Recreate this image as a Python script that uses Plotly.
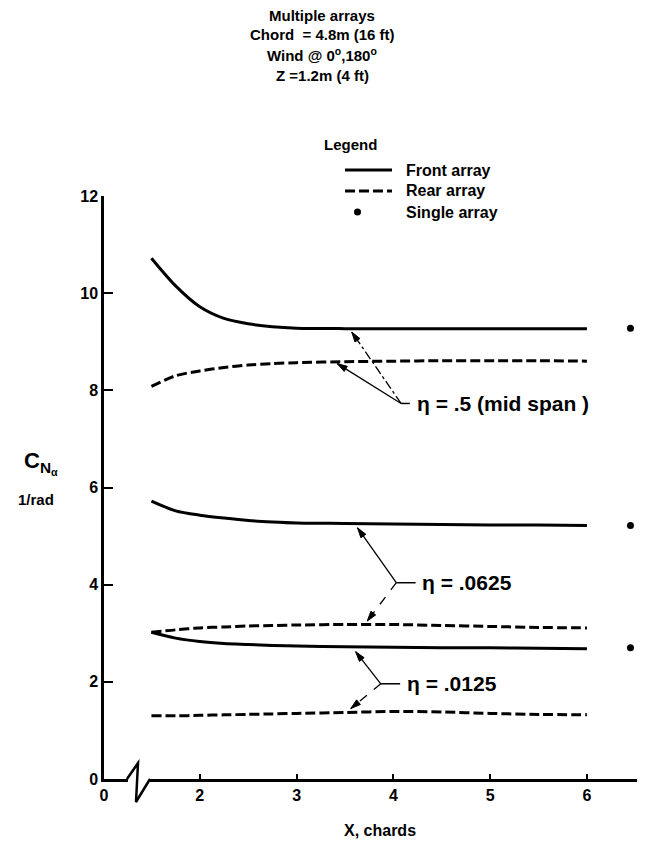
import math
import plotly.graph_objects as go

# ---------------- data ----------------
X_CHORDS = [1.5, 1.75, 2.0, 2.25, 2.5, 2.75, 3.0, 3.5, 4.0, 4.5, 5.0, 5.5, 6.0]

FRONT_ETA_05 = [10.72, 10.15, 9.72, 9.48, 9.37, 9.31, 9.28, 9.27, 9.27, 9.27, 9.27, 9.27, 9.27]
REAR_ETA_05 = [8.08, 8.30, 8.40, 8.47, 8.52, 8.55, 8.57, 8.59, 8.60, 8.61, 8.61, 8.61, 8.60]
FRONT_ETA_0625 = [5.72, 5.52, 5.43, 5.37, 5.32, 5.29, 5.27, 5.26, 5.25, 5.24, 5.23, 5.23, 5.22]
REAR_ETA_0625 = [3.02, 3.07, 3.11, 3.13, 3.15, 3.16, 3.17, 3.18, 3.18, 3.16, 3.14, 3.12, 3.11]
FRONT_ETA_0125 = [3.02, 2.90, 2.83, 2.79, 2.77, 2.75, 2.74, 2.72, 2.71, 2.70, 2.70, 2.69, 2.68]
REAR_ETA_0125 = [1.30, 1.30, 1.31, 1.32, 1.33, 1.34, 1.35, 1.37, 1.39, 1.38, 1.35, 1.33, 1.32]

SINGLE_X = [6.45, 6.45, 6.45]
SINGLE_Y = [9.28, 5.22, 2.70]

Y_TICKS = [0, 2, 4, 6, 8, 10, 12]
X_TICK_VALS = [1.01, 2, 3, 4, 5, 6]      # first position stands for "0" before the axis break
X_TICK_TEXT = ["0", "2", "3", "4", "5", "6"]

TITLE_LINES = ["Multiple arrays", "Chord  = 4.8m (16 ft)",
               "Wind @ 0<sup>o</sup>,180<sup>o</sup>", "Z =1.2m (4 ft)"]
LEGEND_LABELS = ["Front array", "Rear array", "Single array"]
ETA_LABELS = ["\u03b7 = .5 (mid span )", "\u03b7 = .0625", "\u03b7 = .0125"]

# --------------- layout constants ---------------
# the page body has an 8px default margin, so the figure starts at (8, 8) in the window
OFF = 8
W, H = 645 - OFF, 850 - OFF
# plot area in window pixels
WIN_L, WIN_T, WIN_R, WIN_B = 104, 196, 645, 779
PL, PT = WIN_L - OFF, WIN_T - OFF
PR, PB = (OFF + W) - WIN_R, (OFF + H) - WIN_B
PW, PH = WIN_R - WIN_L, WIN_B - WIN_T
X_RANGE = [1.01, 6.6]
Y_RANGE = [0, 12]
SX = PW / (X_RANGE[1] - X_RANGE[0])   # px per x unit
SY = PH / (Y_RANGE[1] - Y_RANGE[0])   # px per y unit
FONT = "Liberation Sans"
BLACK = "#000000"


def px(xp):
    return (xp - WIN_L) / PW


def py(yp):
    return (WIN_B - yp) / PH


def bold(size):
    return dict(family=FONT, size=size, color=BLACK, weight="bold")


fig = go.Figure()

curves = [
    (FRONT_ETA_05, "solid"), (REAR_ETA_05, "dash"),
    (FRONT_ETA_0625, "solid"), (REAR_ETA_0625, "dash"),
    (FRONT_ETA_0125, "solid"), (REAR_ETA_0125, "dash"),
]
for vals, dash in curves:
    fig.add_trace(go.Scatter(
        x=X_CHORDS, y=vals, mode="lines",
        line=dict(color=BLACK, width=3, dash="solid" if dash == "solid" else "10px,4px",
                  shape="spline", smoothing=0.8),
        showlegend=False, hoverinfo="skip"))

fig.add_trace(go.Scatter(
    x=SINGLE_X, y=SINGLE_Y, mode="markers", cliponaxis=False,
    marker=dict(color=BLACK, size=7), showlegend=False, hoverinfo="skip"))

annotations = []
shapes = []

# title lines
for txt, yc in zip(TITLE_LINES, [16, 35, 55, 75]):
    annotations.append(dict(xref="paper", yref="paper", x=px(322), y=py(yc),
                            text=txt, showarrow=False, xanchor="center", yanchor="middle",
                            font=bold(15)))

# manual legend
annotations.append(dict(xref="paper", yref="paper", x=px(322), y=py(145), text="Legend",
                        showarrow=False, xanchor="left", yanchor="middle", font=bold(15)))
for lab, yc in zip(LEGEND_LABELS, [170, 191, 212]):
    annotations.append(dict(xref="paper", yref="paper", x=px(404), y=py(yc), text=lab,
                            showarrow=False, xanchor="left", yanchor="middle", font=bold(16)))
shapes.append(dict(type="line", xref="paper", yref="paper", x0=px(345), x1=px(392),
                   y0=py(170), y1=py(170), line=dict(color=BLACK, width=3)))
shapes.append(dict(type="line", xref="paper", yref="paper", x0=px(345), x1=px(392),
                   y0=py(191), y1=py(191), line=dict(color=BLACK, width=3, dash="10px,4px")))
shapes.append(dict(type="circle", xref="paper", yref="paper", x0=px(354), x1=px(361),
                   y0=py(215.5), y1=py(208.5), fillcolor=BLACK, line=dict(color=BLACK, width=0)))

# y-axis title
annotations.append(dict(xref="paper", yref="paper", x=px(22), y=py(463),
                        text="C<sub>N<sub>\u03b1</sub></sub>", showarrow=False,
                        xanchor="left", yanchor="middle", font=bold(22)))
annotations.append(dict(xref="paper", yref="paper", x=px(16), y=py(499), text="1/rad",
                        showarrow=False, xanchor="left", yanchor="middle", font=bold(15)))

# x-axis title
annotations.append(dict(xref="paper", yref="paper", x=px(380), y=py(830), text="X, chards",
                        showarrow=False, xanchor="center", yanchor="middle", font=bold(16)))

# eta leaders: junction, text x, tips with dash style
leaders = [
    ((4.08, 7.73), 4.22, [((3.42, 8.55), "solid"), ((3.57, 9.20), "dashdot")]),
    ((4.03, 4.04), 4.28, [((3.63, 5.17), "solid"), ((3.73, 3.25), "dash")]),
    ((3.87, 1.96), 4.12, [((3.61, 2.62), "solid"), ((3.56, 1.45), "dash")]),
]


def arrow_head(tipx, tipy, jx, jy, length=10.0, half=3.0):
    dx, dy = (jx - tipx) * SX, (jy - tipy) * SY
    n = math.hypot(dx, dy)
    ux, uy = dx / n, dy / n
    bx, by = length * ux, length * uy
    p1 = (tipx + (bx - half * uy) / SX, tipy + (by + half * ux) / SY)
    p2 = (tipx + (bx + half * uy) / SX, tipy + (by - half * ux) / SY)
    return f"M {tipx},{tipy} L {p1[0]},{p1[1]} L {p2[0]},{p2[1]} Z"


for (jx, jy), tx, tips in leaders:
    shapes.append(dict(type="line", xref="x", yref="y", x0=jx, y0=jy, x1=tx - 0.05, y1=jy,
                       line=dict(color=BLACK, width=1.5)))
    for (tipx, tipy), dsh in tips:
        shapes.append(dict(type="line", xref="x", yref="y", x0=jx, y0=jy, x1=tipx, y1=tipy,
                           line=dict(color=BLACK, width=1.3, dash=dsh)))
        shapes.append(dict(type="path", xref="x", yref="y", path=arrow_head(tipx, tipy, jx, jy),
                           fillcolor=BLACK, line=dict(color=BLACK, width=1)))
for lab, ((jx, jy), tx, _) in zip(ETA_LABELS, leaders):
    annotations.append(dict(xref="x", yref="y", x=tx, y=jy, text=lab, showarrow=False,
                            xanchor="left", yanchor="middle", font=bold(21)))

# axis break on the x axis: white gap then zig-zag
shapes.append(dict(type="rect", xref="paper", yref="paper", x0=px(128), x1=px(150),
                   y0=py(783), y1=py(775), fillcolor="white", line=dict(width=0), layer="above"))
shapes.append(dict(type="path", xref="paper", yref="paper", layer="above",
                   path=f"M {px(127)},{py(779)} L {px(138)},{py(763)} L {px(136)},{py(802)} L {px(150)},{py(779)}",
                   line=dict(color=BLACK, width=2.5)))

fig.update_layout(
    width=W, height=H,
    margin=dict(l=PL, r=PR, t=PT, b=PB, pad=0, autoexpand=False),
    paper_bgcolor="white", plot_bgcolor="white",
    showlegend=False,
    annotations=annotations, shapes=shapes,
    xaxis=dict(range=X_RANGE, tickvals=X_TICK_VALS, ticktext=X_TICK_TEXT, automargin=False,
               showgrid=False, zeroline=False, showline=True, linecolor=BLACK, linewidth=2.5,
               ticks="inside", ticklen=5, tickwidth=1.5, tickcolor=BLACK, tickfont=bold(16)),
    yaxis=dict(range=Y_RANGE, tickvals=Y_TICKS, showgrid=False, zeroline=False, automargin=False,
               showline=True, linecolor=BLACK, linewidth=2.5,
               ticks="inside", ticklen=9, tickwidth=2, tickcolor=BLACK, tickfont=bold(16)),
)

fig.write_html("out.html")
